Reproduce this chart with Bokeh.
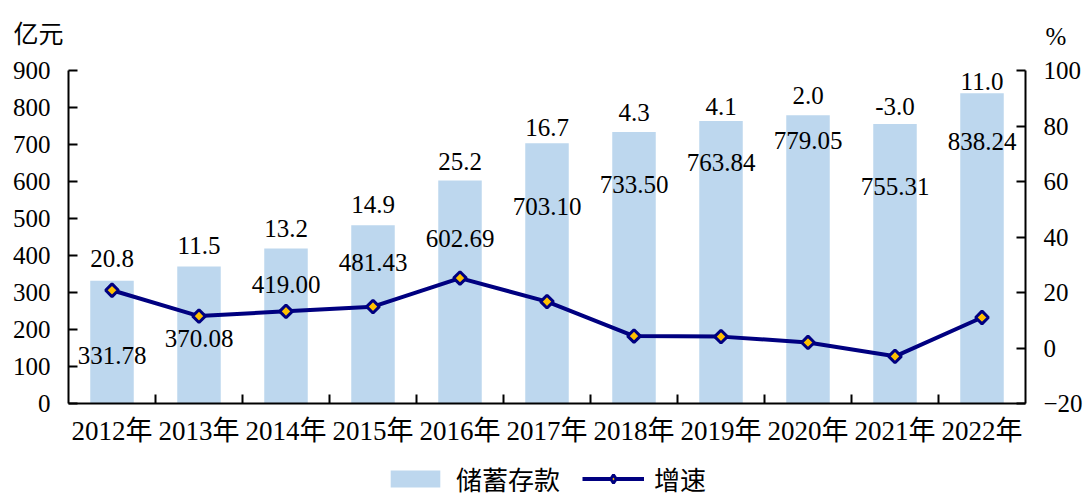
from bokeh.plotting import figure
from bokeh.models import (Range1d, LinearAxis, FixedTicker, ColumnDataSource,
                          Legend, LegendItem)
from bokeh.layouts import column
from bokeh.core.properties import value
from bokeh.embed import file_html
from bokeh.resources import INLINE
import math

# ---------------- data ----------------
years = ["2012年", "2013年", "2014年", "2015年", "2016年", "2017年",
         "2018年", "2019年", "2020年", "2021年", "2022年"]
deposits = [331.78, 370.08, 419.00, 481.43, 602.69, 703.10,
            733.50, 763.84, 779.05, 755.31, 838.24]
growth = [20.8, 11.5, 13.2, 14.9, 25.2, 16.7, 4.3, 4.1, 2.0, -3.0, 11.0]
left_ticks = [0, 100, 200, 300, 400, 500, 600, 700, 800, 900]
right_ticks = [-20, 0, 20, 40, 60, 80, 100]
unit_left = "亿元"
unit_right = "%"
series_names = ["储蓄存款", "增速"]

# label placement offsets (pixels, relative to bar top)
deposit_label_dy = [75, 72, 36, 37, 58, 63, 52, 42, 25, 62, 48]
growth_label_dy = [-22, -21, -20, -21, -19, -16, -20, -14, -20, -18, -12]

SERIF = "'Liberation Serif', 'Noto Sans CJK SC'"
CJK = "'Noto Sans CJK SC'"
BAR = "#BDD7EE"
NAVY = "#000080"
GOLD = "#FFC000"

W = 1085
TOP_H = 50
LEG_H = 46

n = len(years)
xs = [i + 0.5 for i in range(n)]

src = ColumnDataSource(dict(
    x=xs, year=years, dep=deposits, gr=growth,
    dep_txt=[f"{v:.2f}" for v in deposits],
    gr_txt=[f"{v:.1f}" for v in growth],
    dep_dy=deposit_label_dy, gr_dy=growth_label_dy,
))


def bare_figure(height, y_end):
    f = figure(width=W, height=height, output_backend="svg",
               toolbar_location=None, x_range=Range1d(0, 1),
               y_range=Range1d(0, y_end), x_axis_location=None,
               y_axis_location=None, min_border=0)
    f.outline_line_color = None
    f.grid.visible = False
    f.background_fill_color = "white"
    f.border_fill_color = "white"
    return f


def caption_axis(tick, text, font, standoff):
    ax = LinearAxis(ticker=FixedTicker(ticks=[tick], minor_ticks=[]))
    ax.major_label_overrides = {tick: text}
    ax.axis_line_color = None
    ax.major_tick_line_color = None
    ax.minor_tick_line_color = None
    ax.major_tick_in = 0
    ax.major_tick_out = 0
    ax.major_label_standoff = standoff
    ax.major_label_text_font = font
    ax.major_label_text_font_size = "25px"
    ax.major_label_text_color = "black"
    return ax


# ---------------- top strip: unit captions ----------------
top = bare_figure(TOP_H, TOP_H)
top.add_layout(caption_axis(17, unit_left, CJK, 5), "left")
top.add_layout(caption_axis(14, unit_right, "Liberation Serif", 20), "right")

# ---------------- main chart ----------------
p = figure(frame_width=957, frame_height=333, output_backend="svg",
           toolbar_location=None,
           x_range=Range1d(0, n), y_range=Range1d(left_ticks[0], left_ticks[-1]),
           min_border_left=68, min_border_right=60, min_border_top=20,
           min_border_bottom=48)
p.outline_line_color = None
p.grid.visible = False
p.background_fill_color = "white"
p.border_fill_color = "white"

p.extra_y_ranges = {"pct": Range1d(right_ticks[0], right_ticks[-1])}

p.vbar(x="x", top="dep", width=0.5, source=src, fill_color=BAR, line_color=None)
p.line(x="x", y="gr", source=src, y_range_name="pct", line_color=NAVY,
       line_width=4)
p.scatter(x="x", y="gr", source=src, y_range_name="pct", marker="square",
          angle=math.pi / 4, size=9, fill_color=GOLD, line_color=NAVY,
          line_width=3)

# data labels
p.text(x="x", y="dep", text="gr_txt", source=src, text_align="center",
       text_baseline="middle", y_offset="gr_dy",
       text_font=value("Liberation Serif"), text_font_size="25px",
       text_color="black")
p.text(x="x", y="dep", text="dep_txt", source=src, text_align="center",
       text_baseline="middle", y_offset="dep_dy",
       text_font=value("Liberation Serif"), text_font_size="25px",
       text_color="black")


def style_axis(ax):
    ax.axis_line_color = "black"
    ax.axis_line_width = 2
    ax.major_tick_line_color = "black"
    ax.major_tick_line_width = 2
    ax.minor_tick_line_color = "black"
    ax.minor_tick_line_width = 2
    ax.major_label_text_font = SERIF
    ax.major_label_text_font_size = "25px"
    ax.major_label_text_color = "black"


xa = p.xaxis[0]
style_axis(xa)
xa.ticker = FixedTicker(ticks=xs, minor_ticks=list(range(1, n)))
xa.major_label_overrides = {x: y for x, y in zip(xs, years)}
xa.major_tick_in = 0
xa.major_tick_out = 0
xa.minor_tick_in = 9
xa.minor_tick_out = 0
xa.major_label_standoff = 12
xa.major_label_text_font_size = "27px"

ya = p.yaxis[0]
style_axis(ya)
ya.ticker = FixedTicker(ticks=left_ticks)
ya.minor_tick_line_color = None
ya.major_tick_in = 9
ya.major_tick_out = 0
ya.major_label_standoff = 18

ra = LinearAxis(y_range_name="pct", ticker=FixedTicker(ticks=right_ticks))
style_axis(ra)
ra.minor_tick_line_color = None
ra.major_tick_in = 9
ra.major_tick_out = 0
ra.major_label_standoff = 18
p.add_layout(ra, "right")

# ---------------- bottom strip: legend ----------------
leg = bare_figure(LEG_H, LEG_H)
proxy = ColumnDataSource(dict(x=[float("nan")], y=[float("nan")]))
k_bar = leg.vbar(x="x", top="y", width=0.5, source=proxy, fill_color=BAR,
                 line_color=None)
k_line = leg.line(x="x", y="y", source=proxy, line_color=NAVY, line_width=4)
k_pts = leg.scatter(x="x", y="y", source=proxy, marker="diamond", size=15,
                    fill_color=GOLD, line_color=NAVY, line_width=3)
legend = Legend(items=[LegendItem(label=series_names[0], renderers=[k_bar]),
                       LegendItem(label=series_names[1],
                                  renderers=[k_line, k_pts])],
                location=(316, 0), orientation="horizontal",
                glyph_width=62, glyph_height=21, label_standoff=10, spacing=22,
                padding=0, margin=0, border_line_color=None,
                background_fill_alpha=0, label_text_font=CJK,
                label_text_font_size="26px", label_text_color="black",
                label_height=38)
leg.add_layout(legend, "center")

layout = column(top, p, leg, spacing=0)
open("out.html", "w").write(file_html(layout, INLINE))
